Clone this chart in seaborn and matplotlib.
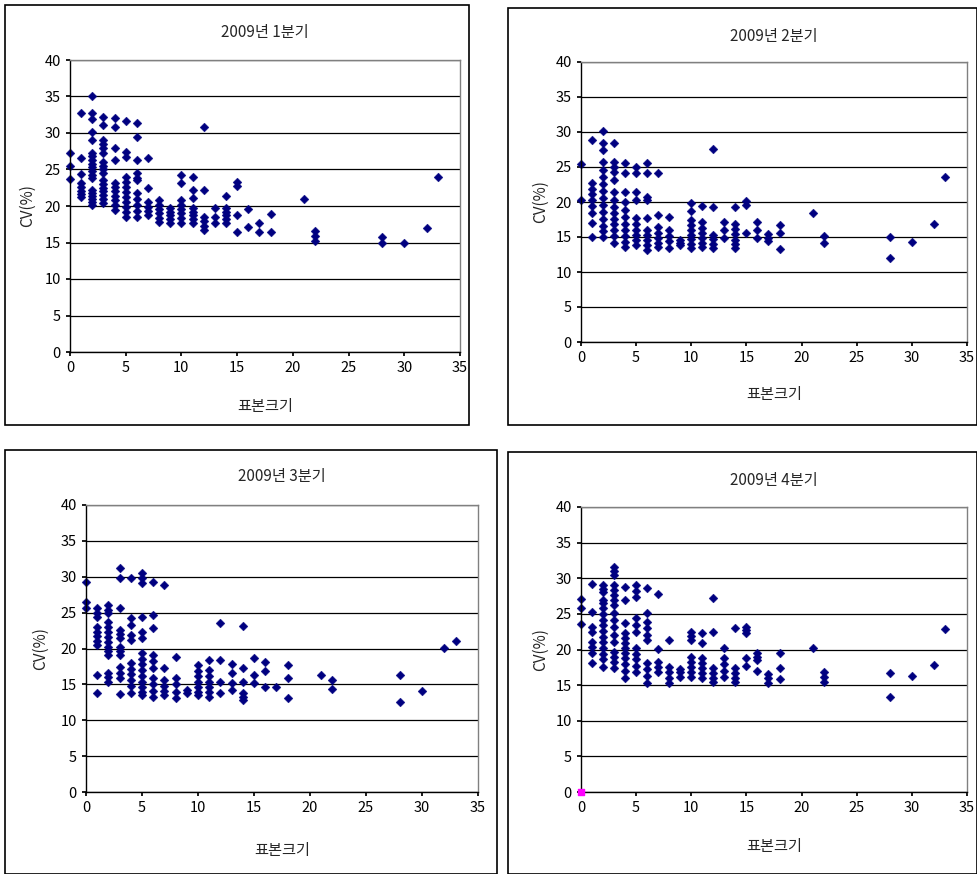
import numpy as np
import pandas as pd
import matplotlib.pyplot as plt
import seaborn as sns
from matplotlib.patches import Rectangle

plt.switch_backend('agg')

# sample size -> CV(%) values
q1 = {
    0: [27.3, 25.5, 23.7],
    1: [32.7, 26.6, 24.4, 23.2, 22.6, 22.0, 21.6, 21.2],
    2: [35.0, 32.7, 31.9, 30.1, 29.0, 27.3, 26.8, 26.3, 25.8, 25.3, 24.8, 24.3, 23.8,
        22.2, 21.8, 21.4, 21.0, 20.6, 20.1],
    3: [32.2, 31.1, 29.0, 28.5, 28.0, 27.3, 26.0, 25.5, 25.0, 24.5, 23.5, 23.0, 22.5,
        22.0, 21.5, 21.0, 20.4],
    4: [32.0, 30.8, 28.0, 26.3, 23.2, 22.6, 22.0, 21.4, 20.8, 20.2, 19.5],
    5: [31.6, 27.4, 26.7, 24.0, 23.3, 22.6, 21.9, 21.2, 20.5, 19.8, 19.2, 18.5],
    6: [31.4, 29.5, 26.3, 24.5, 23.9, 23.5, 21.8, 21.0, 20.2, 19.3, 18.5],
    7: [26.6, 22.5, 20.5, 19.9, 19.3, 18.8],
    8: [20.8, 20.2, 19.6, 19.0, 18.4, 17.8],
    9: [19.7, 19.2, 18.7, 18.2, 17.7],
    10: [24.2, 23.1, 20.8, 20.2, 19.6, 19.0, 18.4, 17.7],
    11: [24.0, 22.2, 21.1, 19.7, 19.2, 18.7, 18.2, 17.7],
    12: [30.8, 22.2, 18.5, 17.9, 17.3, 16.7],
    13: [19.7, 18.5, 17.7],
    14: [21.4, 19.7, 19.2, 18.7, 18.2, 17.7],
    15: [23.3, 22.7, 18.8, 16.4],
    16: [19.6, 17.1],
    17: [17.7, 16.4],
    18: [18.9, 16.4],
    21: [21.0],
    22: [16.6, 15.9, 15.2],
    28: [15.8, 14.9],
    30: [15.0],
    32: [17.0],
    33: [24.0],
}
q2 = {
    0: [25.4, 20.3],
    1: [28.8, 22.7, 21.9, 21.1, 20.3, 19.4, 18.4, 17.0, 15.0],
    2: [30.1, 28.4, 27.4, 25.7, 24.6, 23.6, 22.6, 21.6, 20.6, 19.6, 18.6, 17.6, 16.6,
        15.8, 15.0],
    3: [28.4, 25.7, 25.0, 24.3, 23.1, 21.4, 20.3, 19.3, 18.4, 17.6, 16.8, 16.0, 15.2,
        14.1],
    4: [25.6, 24.1, 21.4, 20.0, 18.9, 17.9, 16.9, 16.0, 15.1, 14.3, 13.6],
    5: [25.0, 24.1, 21.4, 20.3, 17.7, 16.8, 16.0, 15.3, 14.6, 13.9],
    6: [25.6, 24.1, 20.7, 20.3, 17.7, 16.0, 15.3, 14.6, 13.8, 13.1],
    7: [24.1, 18.1, 16.4, 15.6, 14.8, 14.2, 13.6],
    8: [17.9, 16.0, 15.2, 14.4, 13.4],
    9: [14.6, 14.2, 13.9],
    10: [19.9, 18.7, 17.4, 16.7, 16.0, 15.3, 14.7, 14.0, 13.4],
    11: [19.4, 17.1, 16.3, 15.5, 14.8, 14.2, 13.6],
    12: [27.6, 19.3, 15.3, 14.7, 14.0, 13.4],
    13: [17.1, 16.0, 14.9],
    14: [19.3, 16.9, 16.2, 15.4, 14.6, 14.0, 13.4],
    15: [20.1, 19.6, 15.6],
    16: [17.1, 16.0, 14.9],
    17: [15.4, 14.9, 14.4],
    18: [16.7, 15.6, 13.3],
    21: [18.4],
    22: [15.1, 14.1],
    28: [15.0, 12.0],
    30: [14.3],
    32: [16.9],
    33: [23.6],
}
q3 = {
    0: [29.3, 26.5, 25.6],
    1: [25.6, 24.9, 24.4, 23.0, 22.3, 21.7, 21.1, 20.5, 16.3, 13.8],
    2: [26.1, 25.4, 24.9, 23.7, 23.0, 22.3, 21.6, 20.9, 20.2, 19.6, 19.1, 16.6, 16.0,
        15.3],
    3: [31.2, 29.8, 25.6, 22.6, 22.0, 21.5, 20.2, 19.6, 19.1, 17.4, 16.6, 15.9, 13.7],
    4: [29.8, 24.2, 23.3, 21.9, 21.2, 18.0, 17.2, 16.4, 15.6, 14.8, 13.8],
    5: [30.5, 29.8, 29.1, 24.4, 22.3, 21.5, 19.4, 18.6, 17.8, 17.0, 16.2, 15.4, 14.6,
        14.0, 13.5],
    6: [29.3, 24.7, 22.9, 19.1, 18.2, 17.3, 15.9, 15.0, 14.1, 13.2],
    7: [28.9, 17.3, 15.6, 14.8, 14.1, 13.5],
    8: [18.8, 15.9, 15.0, 14.0, 13.1],
    9: [14.2, 13.8],
    10: [17.7, 16.9, 16.1, 15.3, 14.6, 14.0, 13.5],
    11: [18.4, 17.0, 16.2, 15.4, 14.6, 13.9, 13.2],
    12: [23.6, 18.4, 15.3, 13.8],
    13: [17.8, 16.6, 15.2, 14.2],
    14: [23.1, 17.3, 15.3, 13.8, 13.3, 12.8],
    15: [18.7, 16.3, 15.2],
    16: [18.1, 16.9, 14.6],
    17: [14.6],
    18: [17.7, 15.9, 13.1],
    21: [16.3],
    22: [15.6, 14.4],
    28: [16.3, 12.5],
    30: [14.1],
    32: [20.1],
    33: [21.0],
}
q4 = {
    0: [27.1, 25.8, 23.6],
    1: [29.2, 25.3, 23.2, 22.5, 21.1, 20.3, 19.5, 18.1],
    2: [29.0, 28.5, 28.1, 26.9, 26.5, 25.8, 25.0, 24.2, 23.4, 22.6, 21.8, 21.0, 20.2,
        19.4, 18.6, 17.5],
    3: [31.6, 31.0, 30.5, 29.0, 28.3, 27.6, 26.9, 26.2, 25.1, 24.1, 23.1, 22.1, 21.1,
        19.6, 18.9, 18.2, 17.4],
    4: [28.8, 26.9, 23.7, 22.3, 21.6, 20.9, 20.2, 19.5, 18.8, 17.9, 17.0, 16.0],
    5: [29.0, 28.2, 27.4, 24.4, 23.4, 22.5, 20.2, 19.4, 18.6, 17.7, 16.8],
    6: [28.6, 25.1, 23.9, 23.0, 22.1, 21.3, 18.1, 17.2, 16.3, 15.3],
    7: [27.8, 20.1, 18.2, 17.5, 16.8],
    8: [21.3, 17.5, 16.8, 16.0, 15.3],
    9: [17.3, 16.8, 16.2],
    10: [22.5, 21.9, 21.3, 18.9, 18.2, 17.5, 16.8, 16.2],
    11: [22.3, 20.9, 18.8, 18.1, 17.4, 16.7, 16.0],
    12: [27.2, 22.5, 17.4, 16.7, 16.0, 15.4],
    13: [20.2, 18.8, 17.9, 17.0, 16.2],
    14: [23.0, 17.4, 16.7, 16.0, 15.4],
    15: [23.2, 22.7, 22.3, 18.8, 17.7],
    16: [19.5, 19.0, 18.5, 17.0],
    17: [16.6, 16.0, 15.3],
    18: [19.5, 17.4, 15.9],
    21: [20.2],
    22: [16.8, 16.1, 15.4],
    28: [16.7, 13.3],
    30: [16.3],
    32: [17.8],
    33: [22.9],
}
titles = ['2009년 1분기', '2009년 2분기', '2009년 3분기', '2009년 4분기']

W, H = 977, 874
# panel boxes and axes rectangles in pixels (left, top, right, bottom)
boxes = [(5, 5, 469, 425), (508, 8, 977, 425), (5, 450, 497, 874), (508, 452, 977, 874)]
axrects = [(70, 60, 460, 352), (581, 62, 967, 342), (86, 505, 478, 792), (581, 507, 967, 792)]
title_y = [32, 37, 476, 480]
xlab_y = [407, 394, 851, 847]
ylab_x = [27, 540, 40, 540]

sns.set_theme(style='white')
plt.rcParams['font.family'] = ['Noto Sans CJK KR', 'DejaVu Sans']

fig = plt.figure(figsize=(W / 100, H / 100), dpi=100)
fig.patch.set_facecolor('white')


def to_df(d):
    xs, ys = [], []
    for k, v in d.items():
        xs += [k] * len(v)
        ys += v
    return pd.DataFrame({'n': xs, 'cv': ys})


for i, d in enumerate([q1, q2, q3, q4]):
    bl, bt, br, bb = boxes[i]
    fig.add_artist(Rectangle((bl / W, 1 - bb / H), (br - bl) / W, (bb - bt) / H,
                             transform=fig.transFigure, fill=False, ec='black', lw=1.2))
    l, t, r, b = axrects[i]
    ax = fig.add_axes([l / W, 1 - b / H, (r - l) / W, (b - t) / H])
    df = to_df(d)
    sns.scatterplot(data=df, x='n', y='cv', ax=ax, marker='D', color='#000080',
                    s=20, edgecolor='#000080', linewidth=0.3, clip_on=False)
    if i == 3:
        ax.scatter([0], [0], marker='s', s=22, color='#ff00ff', clip_on=False, zorder=5)
    ax.set_xlim(0, 35)
    ax.set_ylim(0, 40)
    ax.set_xticks(range(0, 36, 5))
    ax.set_yticks(range(0, 41, 5))
    ax.yaxis.grid(True, color='black', lw=0.9)
    ax.xaxis.grid(False)
    ax.set_axisbelow(True)
    for s in ax.spines.values():
        s.set_color('#808080')
        s.set_linewidth(1)
    ax.spines['left'].set_color('black')
    ax.spines['bottom'].set_color('black')
    ax.tick_params(axis='both', labelsize=10.5, length=3, direction='out',
                   bottom=True, left=True, colors='black')
    ax.set_xlabel('')
    ax.set_ylabel('')
    fig.text(((l + r) / 2) / W, 1 - title_y[i] / H, titles[i], ha='center', va='center', fontsize=11)
    fig.text(((l + r) / 2) / W, 1 - xlab_y[i] / H, '표본크기', ha='center', va='center', fontsize=11)
    fig.text(ylab_x[i] / W, 1 - ((t + b) / 2) / H, 'CV(%)', ha='center', va='center',
             rotation=90, fontsize=11)

fig.savefig('out.png', dpi=100)
